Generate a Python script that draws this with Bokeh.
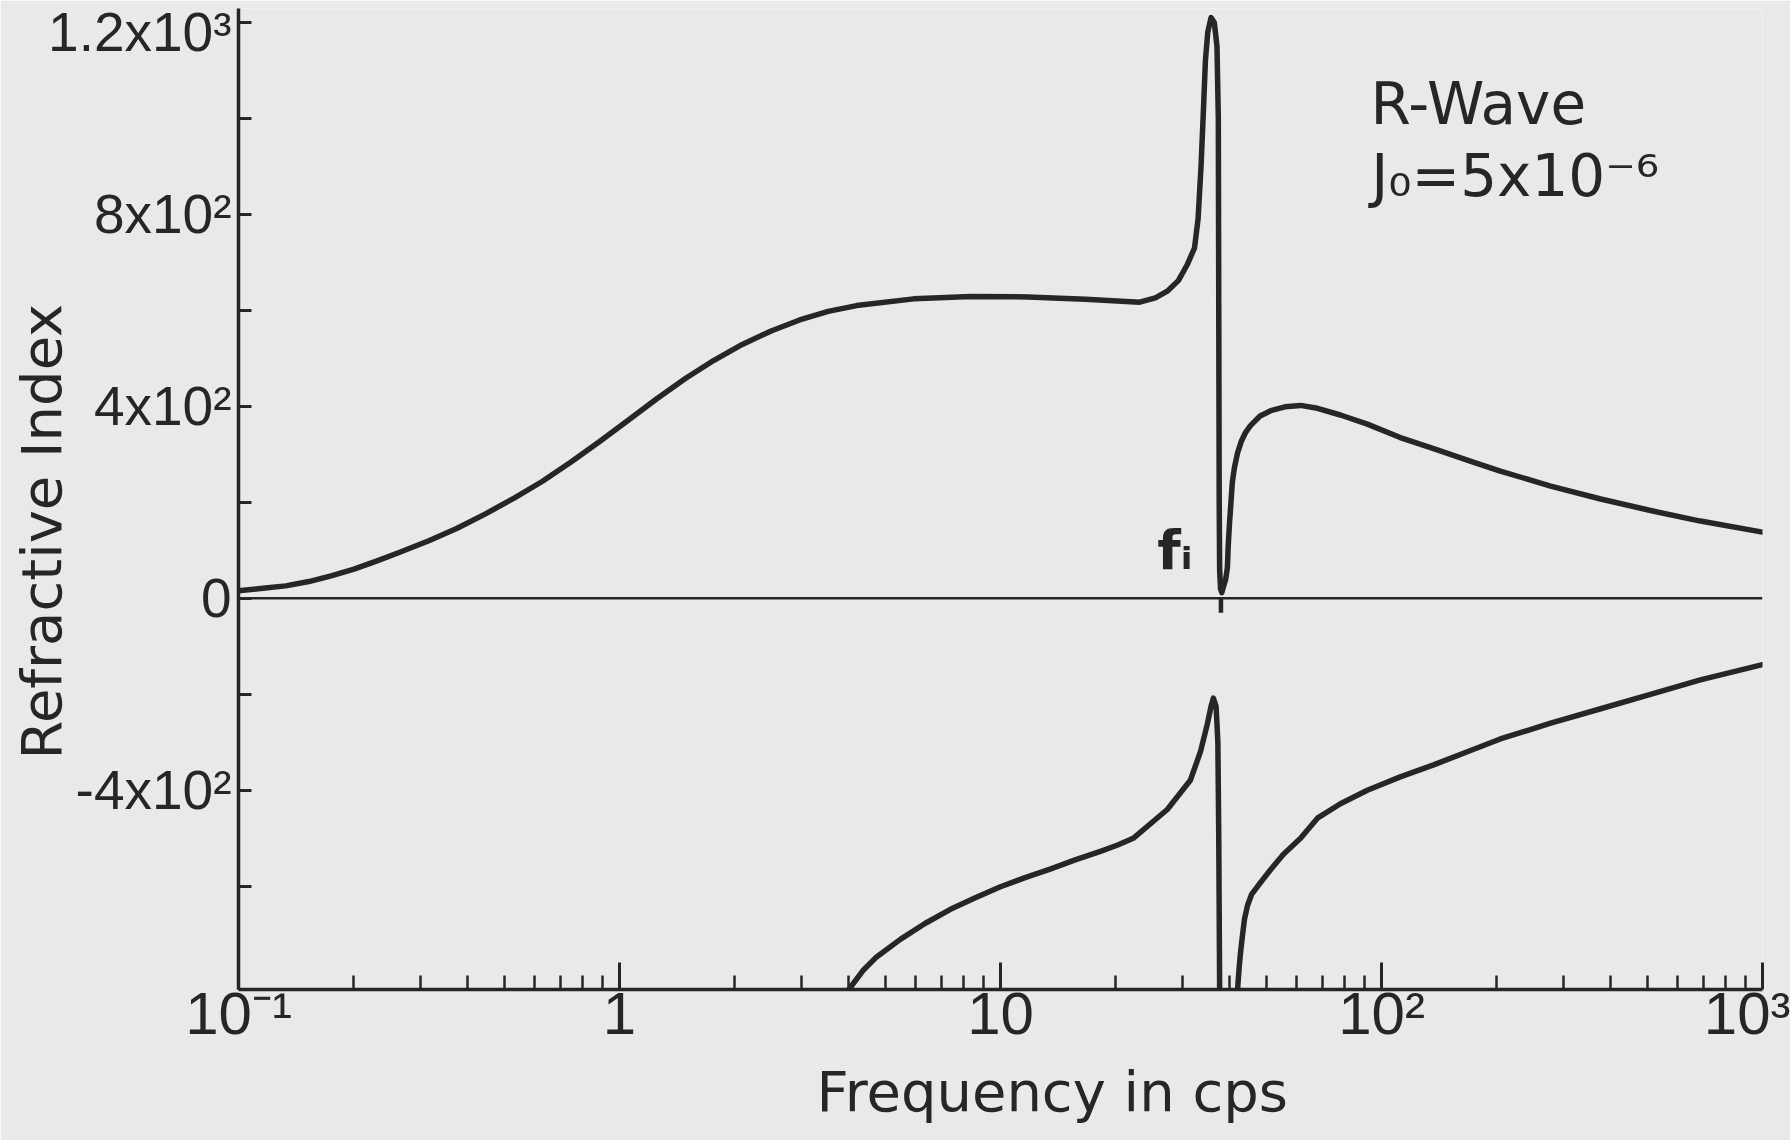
from bokeh.plotting import figure
from bokeh.models import Range1d, FixedTicker, Span, Label, Title
from bokeh.embed import file_html
from bokeh.resources import INLINE

# ---- data (frequency in cps, refractive index) ----
freq_upper = [0.1, 0.116, 0.133, 0.153, 0.175, 0.201, 0.231, 0.265, 0.316, 0.375, 0.445,
              0.529, 0.628, 0.746, 0.887, 1.054, 1.253, 1.489, 1.77, 2.10, 2.50, 2.97,
              3.53, 4.19, 5.92, 8.36, 11.8, 16.7, 23.2, 25.5, 27.4, 29.3, 30.9, 32.3,
              33.0, 33.6, 34.1, 34.5, 35.0, 35.7, 36.4, 37.0, 37.3, 37.4, 37.5, 37.6,
              37.8, 38.1, 38.5, 39.0, 39.4, 39.6, 39.9, 40.3, 40.6, 41.1, 41.9, 42.9,
              44.0, 45.3, 48.0, 51.2, 55.8, 61.3, 67.9, 78.0, 91.8, 112.0, 137.0, 174.0,
              205.0, 278.0, 376.0, 508.0, 687.0, 1000.0]
n_upper = [16, 21, 26, 35, 47, 61, 78, 96, 120, 146, 176,
           209, 244, 284, 327, 371, 416, 458, 496, 529, 557, 580,
           598, 610, 624, 629, 628, 623, 617, 626, 640, 662, 695, 730,
           790, 900, 1020, 1120, 1180, 1210, 1200, 1150, 1000, 600, 200, 60,
           20, 12, 25, 40, 64, 110, 155, 205, 242, 272, 303, 328,
           346, 360, 380, 391, 399, 402, 396, 382, 363, 335, 312, 284,
           265, 234, 207, 183, 161, 138]

freq_lower_left = [4.0, 4.35, 4.70, 5.47, 6.35, 7.39, 8.59, 10.0, 11.6, 13.5, 15.7, 18.3,
                   20.3, 22.3, 27.4, 31.5, 33.5, 34.9, 35.7, 36.2, 36.8, 37.2, 37.4, 37.6]
n_lower_left = [-815, -776, -749, -710, -677, -648, -624, -601, -582, -564, -545, -527,
                -514, -500, -440, -379, -319, -262, -225, -208, -225, -300, -500, -815]

freq_lower_right = [41.9, 42.3, 42.7, 43.2, 43.7, 44.5, 45.6, 47.3, 51.2, 55.3, 61.3, 67.9,
                    78.0, 91.8, 112.0, 137.0, 174.0, 205.0, 278.0, 376.0, 508.0, 687.0,
                    1000.0]
n_lower_right = [-815, -770, -735, -700, -668, -640, -617, -600, -565, -533, -500, -458,
                 -428, -400, -372, -347, -315, -293, -260, -230, -200, -170, -138]

f_i = 37.9

x_major = [0.1, 1, 10, 100, 1000]
x_labels = ["10⁻¹", "1", "10", "10²", "10³"]
y_ticks = [-600, -400, -200, 0, 200, 400, 600, 800, 1000, 1200]
y_labels = ["", "-4x10²", "", "0", "", "4x10²", "", "8x10²", "", "1.2x10³"]

INK = "#262626"
BG = "#e9e9e9"
TICK_FONT = "Liberation Sans"
TITLE_FONT = "DejaVu Sans"

p = figure(width=1790, height=1140, x_axis_type="log",
           x_range=Range1d(0.1, 1000), y_range=Range1d(-815, 1229),
           output_backend="svg", toolbar_location=None,
           min_border_left=238, min_border_right=28,
           min_border_top=8, min_border_bottom=151)
p.background_fill_color = BG
p.border_fill_color = BG
p.outline_line_color = None
p.xgrid.grid_line_color = None
p.ygrid.grid_line_color = None

# x axis
minor = [m * 10.0 ** e for e in (-1, 0, 1, 2) for m in range(2, 10)]
p.xaxis.ticker = FixedTicker(ticks=x_major, minor_ticks=minor)
p.xaxis.major_label_overrides = {t: l for t, l in zip(x_major, x_labels)}
p.xaxis.axis_line_width = 3.5
p.xaxis.axis_line_color = INK
p.xaxis.major_tick_in = 27
p.xaxis.major_tick_out = 0
p.xaxis.minor_tick_in = 14
p.xaxis.minor_tick_out = 0
p.xaxis.major_tick_line_width = 3
p.xaxis.minor_tick_line_width = 2.5
p.xaxis.major_tick_line_color = INK
p.xaxis.minor_tick_line_color = INK
p.xaxis.major_label_text_font = TICK_FONT
p.xaxis.major_label_text_font_size = "60px"
p.xaxis.major_label_text_color = INK
p.xaxis.major_label_standoff = -10

# y axis
p.yaxis.ticker = FixedTicker(ticks=y_ticks, minor_ticks=[])
p.yaxis.major_label_overrides = {t: l for t, l in zip(y_ticks, y_labels)}
p.yaxis.axis_line_width = 3.5
p.yaxis.axis_line_color = INK
p.yaxis.major_tick_in = 13
p.yaxis.major_tick_out = 0
p.yaxis.minor_tick_line_color = None
p.yaxis.major_tick_line_width = 3
p.yaxis.major_tick_line_color = INK
p.yaxis.major_label_text_font = TICK_FONT
p.yaxis.major_label_text_font_size = "55px"
p.yaxis.major_label_text_color = INK
p.yaxis.major_label_standoff = 7

# axis titles
p.add_layout(Title(text="Frequency in cps", align="left", offset=578,
                   text_font=TITLE_FONT, text_font_size="56px",
                   text_font_style="normal", text_color=INK, standoff=15), "below")
p.add_layout(Title(text="Refractive Index", align="left", offset=230,
                   vertical_align="top",
                   text_font=TITLE_FONT, text_font_size="56px",
                   text_font_style="normal", text_color=INK, standoff=-60), "left")

# zero line
p.add_layout(Span(location=0, dimension="width", line_color=INK, line_width=2.5))

# curves
for xs, ys in ((freq_upper, n_upper), (freq_lower_left, n_lower_left),
               (freq_lower_right, n_lower_right)):
    p.line(xs, ys, line_color=INK, line_width=5.5, line_join="round", line_cap="round")

# f_i marker
p.segment(x0=[f_i], y0=[0], x1=[f_i], y1=[-30], line_color=INK, line_width=4.5)

# texts
p.add_layout(Label(x=93.5, y=1031, text="R-Wave", text_font=TITLE_FONT,
                   text_font_size="58px", text_color=INK, text_align="left",
                   text_baseline="middle"))
p.add_layout(Label(x=94.0, y=879, text="J₀=5x10⁻⁶", text_font=TITLE_FONT,
                   text_font_size="58px", text_color=INK, text_align="left",
                   text_baseline="middle"))
p.add_layout(Label(x=25.8, y=100, text="fᵢ", text_font=TITLE_FONT,
                   text_font_size="54px", text_font_style="bold", text_color=INK,
                   text_align="left", text_baseline="middle"))

open("out.html", "w").write(file_html(p, INLINE))
